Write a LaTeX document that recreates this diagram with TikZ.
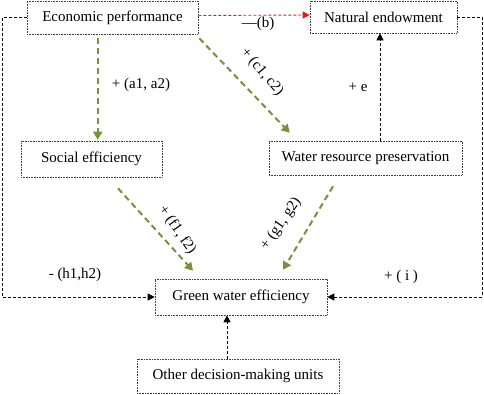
\documentclass[tikz,border=0pt]{standalone}
\usepackage{fontspec}
\setmainfont{Liberation Serif}
\usetikzlibrary{arrows.meta,calc}
\definecolor{olive}{RGB}{118,146,60}
\definecolor{redarr}{RGB}{220,30,30}
\begin{document}
\begin{tikzpicture}[x=1pt,y=-1pt,
  box/.style={draw=black!75,densely dotted,line width=0.6pt,inner sep=0pt,font=\fontsize{15}{18}\selectfont},
  lab/.style={font=\fontsize{15}{18}\selectfont,inner sep=1pt},
  blk/.style={draw=black,dashed,dash pattern=on 3pt off 2pt,line width=0.8pt,-{Triangle[length=7pt,width=7pt]}},
  grn/.style={draw=olive,dash pattern=on 6pt off 4pt,line width=2pt,-{Triangle[length=8pt,width=9pt,fill=olive]}},
  rd/.style={draw=redarr,dash pattern=on 3pt off 2pt,line width=0.9pt,-{Triangle[length=7pt,width=7pt,fill=redarr]}}]
\useasboundingbox (0,0) rectangle (484,394);
\node[box,minimum width=171pt,minimum height=33pt] (econ) at (112.5,17.5) {Economic performance};
\node[box,minimum width=147pt,minimum height=32pt] (nat) at (383.5,17) {Natural endowment};
\node[box,minimum width=141pt,minimum height=36pt] (soc) at (91.5,159) {Social efficiency};
\node[box,minimum width=193pt,minimum height=34pt] (wat) at (365.5,158) {Water resource preservation};
\node[box,minimum width=172pt,minimum height=36pt] (gwe) at (241,297) {Green water efficiency};
\node[box,minimum width=202pt,minimum height=34pt] (oth) at (238,376) {Other decision-making units};
\coordinate (L) at (2,17.5);
\coordinate (R) at (482,17);
% connectors
\draw[rd] ([yshift=2pt]econ.east) -- ([yshift=2pt]nat.west);
\draw[blk] (econ.west) -- (L) |- (gwe.west);
\draw[blk] (nat.east) -- (R) |- (gwe.east);
\draw[blk] ([xshift=-11pt]oth.north) -- ([xshift=-11pt]oth.north |- gwe.south);
\draw[blk] ([xshift=14.5pt]wat.north) -- ([xshift=14.5pt]wat.north |- nat.south);
\draw[grn] ($(econ.south west)+(71,4)$) -- ($(soc.north west)+(77,-1)$);
\draw[grn] ($(econ.south east)+(1,4)$) -- ($(wat.north west)+(21,-8)$);
\draw[grn] ($(soc.south)+(26.5,11)$) -- ($(gwe.north)+(-48,-8)$);
\draw[grn] ($(wat.south)+(-32.5,11)$) -- ($(gwe.north)+(42,-9)$);
% labels
\node[lab] (lb) at (258,24) {—(b)};
\node[lab] (la) at (141,85) {+ (a1, a2)};
\node[lab,rotate=-50] (lc) at (262,72) {+ (c1, c2)};
\node[lab] (le) at (358,87) {+ e};
\node[lab,rotate=-55] (lf) at (177,230) {+ (f1, f2)};
\node[lab,rotate=55] (lg) at (281,224) {+ (g1, g2)};
\node[lab] (lh) at (75,275) {- (h1,h2)};
\node[lab] (li) at (401,277) {+ ( i )};
\end{tikzpicture}
\end{document}
